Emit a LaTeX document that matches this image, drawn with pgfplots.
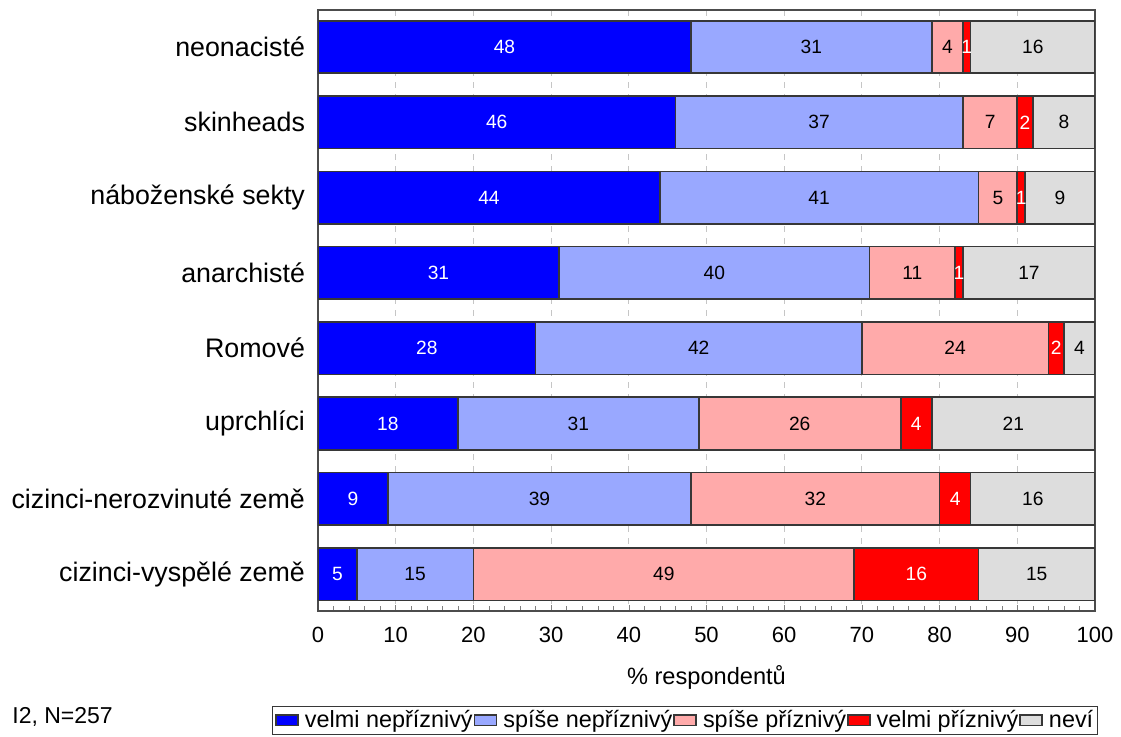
\documentclass[border=0pt]{standalone}
\usepackage{fontspec}
\setmainfont{Liberation Sans}
\usepackage{pgfplots}
\usepackage{pgfplotstable}
\pgfplotsset{compat=1.18}

\definecolor{vneg}{RGB}{0,0,255}
\definecolor{sneg}{RGB}{153,168,255}
\definecolor{spos}{RGB}{255,170,170}
\definecolor{vpos}{RGB}{255,0,0}
\definecolor{nevi}{RGB}{221,221,221}
\definecolor{edge}{RGB}{55,55,55}

% rows top to bottom, values in % of respondents
\pgfplotstableread{
idx vneg sneg spos vpos nevi
0 48 31 4 1 16
1 46 37 7 2 8
2 44 41 5 1 9
3 31 40 11 1 17
4 28 42 24 2 4
5 18 31 26 4 21
6 9 39 32 4 16
7 5 15 49 16 15
}\data

\pgfplotsset{
  seg/.style 2 args={fill=#1, draw=edge, line width=0.8pt,
    nodes near coords style={text=#2}},
}

\begin{document}
\begin{tikzpicture}
\begin{axis}[
  x=3.885pt, y=37.65pt,
  xmin=0, xmax=100,
  ymin=-0.49, ymax=7.49,
  y dir=reverse,
  xbar stacked,
  bar width=26.25pt,
  ytick={0,...,7},
  yticklabels={neonacisté, skinheads, náboženské sekty, anarchisté, Romové, uprchlíci, cizinci-nerozvinuté země, cizinci-vyspělé země},
  yticklabel style={font=\fontsize{13.4}{15}\selectfont, xshift=-3pt},
  ytick style={draw=none},
  xtick={0,10,...,100},
  minor x tick num=4,
  xtick pos=bottom,
  tick align=inside,
  major tick length=3pt,
  minor tick length=2.5pt,
  tick style={gray},
  xticklabel style={font=\fontsize{11}{13}\selectfont, yshift=-4.5pt},
  /pgf/number format/assume math mode=true,
  xmajorgrids,
  major grid style={dashed, gray!45},
  axis line style={draw=gray!60!black, line width=1pt},
  xlabel={\% respondentů},
  every axis x label/.style={at={(axis description cs:0.5,-0.11)}, anchor=center, font=\fontsize{11.8}{13}\selectfont},
  point meta=explicit,
  nodes near coords,
  nodes near coords style={font=\fontsize{9.6}{11}\selectfont},
  every node near coord/.append style={anchor=center},
  legend columns=-1,
  legend style={at={(-0.0592,-0.158)}, anchor=north west, draw=edge,
    font=\fontsize{11.7}{14}\selectfont, inner sep=1.5pt,
    nodes={inner sep=0.5pt},
    /tikz/every even column/.append style={column sep=0pt},
    /tikz/every odd column/.append style={column sep=2.5pt}},
  legend image code/.code={\draw[#1, line width=0.8pt] (0pt,-2.6pt) rectangle (11pt,2.6pt);},
]
\addplot[seg={vneg}{white}] table[y=idx, x=vneg, meta=vneg] {\data};
\addplot[seg={sneg}{black}] table[y=idx, x=sneg, meta=sneg] {\data};
\addplot[seg={spos}{black}] table[y=idx, x=spos, meta=spos] {\data};
\addplot[seg={vpos}{white}] table[y=idx, x=vpos, meta=vpos] {\data};
\addplot[seg={nevi}{black}] table[y=idx, x=nevi, meta=nevi] {\data};
\legend{velmi nepříznivý, spíše nepříznivý, spíše příznivý, velmi příznivý, neví}
\end{axis}
\node[anchor=west, inner sep=0pt, font=\fontsize{11.5}{13}\selectfont] at (-153pt,-53pt) {I2, N=257};
\pgfresetboundingbox
\path[use as bounding box] (-159pt,-62.5pt) rectangle (401.5pt,305.5pt);
\end{tikzpicture}
\end{document}
